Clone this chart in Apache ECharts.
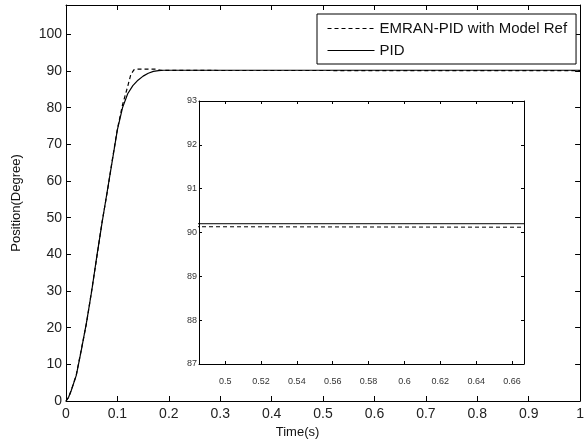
<!DOCTYPE html>
<html>
<head>
<meta charset="utf-8">
<script src="https://cdn.jsdelivr.net/npm/echarts@6/dist/echarts.min.js"></script>
<style>
  html, body { margin: 0; padding: 0; background: #fff; }
  #chart { width: 587px; height: 444px; }
</style>
</head>
<body>
<div id="chart"></div>
<script>
// values
var pidTime = [0, 0.005, 0.01, 0.02, 0.03, 0.04, 0.05, 0.06, 0.07, 0.08, 0.09, 0.10,
  0.11, 0.12, 0.13, 0.14, 0.15, 0.16, 0.17, 0.18, 0.19, 1.0];
var pidPos = [0, 1.0, 2.8, 7.0, 14.0, 21.5, 30.0, 39.5, 48.5, 57.0, 65.5, 74.0,
  80.0, 83.8, 86.0, 87.5, 88.6, 89.4, 89.9, 90.1, 90.2, 90.2];

var emranTime = [0, 0.005, 0.01, 0.02, 0.03, 0.04, 0.05, 0.06, 0.07, 0.08, 0.09, 0.10,
  0.11, 0.12, 0.126, 0.132, 0.136, 0.175, 0.185, 1.0];
var emranPos = [0, 1.0, 2.8, 7.1, 14.2, 21.3, 30.2, 39.3, 48.7, 56.8, 65.7, 74.2,
  80.8, 85.8, 89.0, 90.3, 90.5, 90.5, 90.15, 90.1];

var mainXTicks = [0, 1, 0.1];      // min, max, step
var mainYTicks = [0, 108, 10];
var insetXRange = [0.4854, 0.6667];
var insetXLabels = [0.5, 0.52, 0.54, 0.56, 0.58, 0.6, 0.62, 0.64, 0.66];
var insetYTicks = [87, 93, 1];

var seriesNames = ['EMRAN-PID with Model Ref', 'PID'];

function zip(xs, ys) {
  return xs.map(function (x, i) { return [x, ys[i]]; });
}

var font = 'Arial, "Liberation Sans", sans-serif';
var ink = '#000';

function mainAxis(extra) {
  return Object.assign({
    type: 'value',
    gridIndex: 0,
    axisLine: { show: true, onZero: false, lineStyle: { color: ink, width: 1 } },
    axisTick: { show: true, inside: true, length: 5, lineStyle: { color: ink, width: 1 } },
    splitLine: { show: false }
  }, extra);
}

function insetAxis(extra) {
  return Object.assign({
    type: 'value',
    gridIndex: 1,
    axisLine: { show: true, onZero: false, lineStyle: { color: ink, width: 1 } },
    axisTick: { show: true, inside: true, length: 3, lineStyle: { color: ink, width: 1 } },
    splitLine: { show: false }
  }, extra);
}

var chart = echarts.init(document.getElementById('chart'));

var option = {
  animation: false,
  backgroundColor: '#fff',
  textStyle: { fontFamily: font },
  grid: [
    { left: 66, top: 5, right: 0, bottom: 43 },
    { left: 199, top: 101, width: 325, height: 263 }
  ],
  legend: {
    orient: 'vertical',
    left: 317,
    top: 14,
    padding: [7, 9, 6, 10],
    itemGap: 7,
    itemWidth: 47,
    itemHeight: 14,
    borderColor: ink,
    borderWidth: 1,
    backgroundColor: '#fff',
    z: 10,
    itemStyle: { color: 'rgba(0,0,0,0)', borderWidth: 0, opacity: 0 },
    lineStyle: { width: 1 },
    textStyle: { fontFamily: font, fontSize: 15, color: '#111' },
    data: seriesNames
  },
  xAxis: [
    mainAxis({
      position: 'bottom', min: mainXTicks[0], max: mainXTicks[1], interval: mainXTicks[2],
      name: 'Time(s)', nameLocation: 'middle', nameGap: 24,
      nameTextStyle: { fontSize: 13, color: '#111', padding: [0, 51, 0, 0] },
      axisLabel: { fontSize: 14, color: '#222', margin: 6 }
    }),
    mainAxis({
      position: 'top', min: mainXTicks[0], max: mainXTicks[1], interval: mainXTicks[2],
      axisLabel: { show: false }
    }),
    insetAxis({
      position: 'bottom', min: insetXRange[0], max: insetXRange[1],
      axisTick: { show: true, inside: true, length: 3, lineStyle: { color: ink, width: 1 }, customValues: insetXLabels },
      axisLabel: { fontSize: 9, color: '#333', margin: 13, customValues: insetXLabels }
    }),
    insetAxis({
      position: 'top', min: insetXRange[0], max: insetXRange[1],
      axisTick: { show: true, inside: true, length: 3, lineStyle: { color: ink, width: 1 }, customValues: insetXLabels },
      axisLabel: { show: false }
    })
  ],
  yAxis: [
    mainAxis({
      position: 'left', min: mainYTicks[0], max: mainYTicks[1], interval: mainYTicks[2],
      name: 'Position(Degree)', nameLocation: 'middle', nameGap: 43,
      nameTextStyle: { fontSize: 13, color: '#111' },
      axisLabel: { fontSize: 14, color: '#222', margin: 4, showMaxLabel: false }
    }),
    mainAxis({
      position: 'right', min: mainYTicks[0], max: mainYTicks[1], interval: mainYTicks[2],
      axisLabel: { show: false }
    }),
    insetAxis({
      position: 'left', min: insetYTicks[0], max: insetYTicks[1], interval: insetYTicks[2],
      axisLabel: { fontSize: 9, color: '#333', margin: 2 }
    }),
    insetAxis({
      position: 'right', min: insetYTicks[0], max: insetYTicks[1], interval: insetYTicks[2],
      axisLabel: { show: false }
    })
  ],
  series: [
    {
      name: seriesNames[0], type: 'line', xAxisIndex: 0, yAxisIndex: 0,
      symbol: 'none', data: zip(emranTime, emranPos),
      lineStyle: { color: ink, width: 1.2, type: [4, 3] }, itemStyle: { color: ink }
    },
    {
      name: seriesNames[1], type: 'line', xAxisIndex: 0, yAxisIndex: 0,
      symbol: 'none', data: zip(pidTime, pidPos),
      lineStyle: { color: ink, width: 1.2 }, itemStyle: { color: ink }
    },
    {
      name: seriesNames[0], type: 'line', xAxisIndex: 2, yAxisIndex: 2,
      symbol: 'none', clip: true, data: zip(emranTime, emranPos),
      lineStyle: { color: ink, width: 1, type: [4, 3] }, itemStyle: { color: ink }
    },
    {
      name: seriesNames[1], type: 'line', xAxisIndex: 2, yAxisIndex: 2,
      symbol: 'none', clip: true, data: zip(pidTime, pidPos),
      lineStyle: { color: ink, width: 1 }, itemStyle: { color: ink }
    }
  ]
};

chart.setOption(option);
</script>
</body>
</html>
